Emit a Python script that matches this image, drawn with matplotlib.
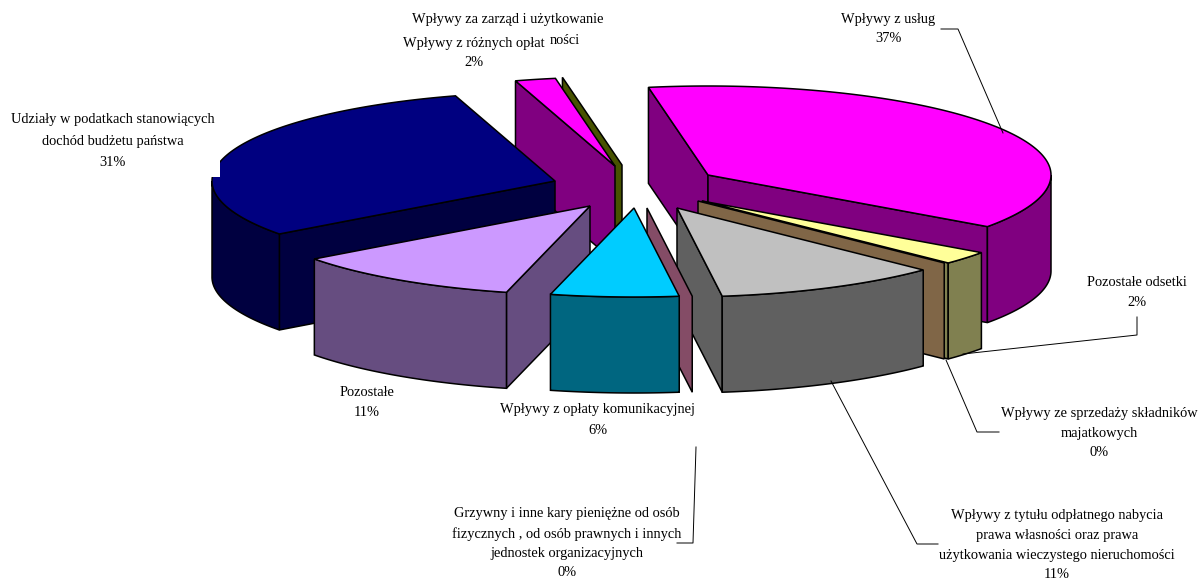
import numpy as np
import matplotlib
matplotlib.use("Agg")
import matplotlib.pyplot as plt
from matplotlib.patches import Polygon, Rectangle

# ---- data (share of revenue, %) in drawing order around the pie
categories = [
    "Wpływy z usług", "Pozostałe odsetki", "Wpływy ze sprzedaży składników majatkowych",
    "Wpływy z tytułu odpłatnego nabycia prawa własności", "Grzywny i inne kary pieniężne",
    "Wpływy z opłaty komunikacyjnej", "Pozostałe",
    "Udziały w podatkach stanowiących dochód budżetu państwa",
    "Wpływy z różnych opłat", "Wpływy za zarząd i użytkowanie",
]
values = [37.49, 2.4, 0.0, 10.6, 0.0, 6.0, 10.9, 30.35, 1.9, 0.0]

# ---- styles
top_colors = ["#FF00FF", "#FFFF99", "#CC9966", "#C0C0C0", "#993366",
              "#00CCFF", "#CC99FF", "#000080", "#FF00FF", "#808000"]
wall_colors = ["#800080", "#808050", "#806647", "#606060", "#844C66",
               "#006680", "#664D80", "#000040", "#800080", "#475200"]
# exploded centre of every slice, in chart pixels
centers = [(708, 175), (702, 201), (698, 201), (677, 208), (647, 208),
           (634, 208), (590, 206), (555, 181), (615, 166), (622, 165)]
draw_order = [0, 1, 2, 3, 9, 8, 7, 6, 4, 5]
START = -100.0
RX, RY, DEPTH = 343, 89, 96
LW = 1.1

fig = plt.figure(figsize=(12.01, 5.80), dpi=100)
ax = fig.add_axes([0, 0, 1, 1])
ax.set_xlim(0, 1201)
ax.set_ylim(580, 0)
ax.axis("off")

total = sum(values)
edges = START + np.concatenate([[0], np.cumsum(values)]) * 360 / total


def ell(c, t):
    t = np.radians(t)
    return c[0] + RX * np.cos(t), c[1] + RY * np.sin(t)


def poly(pts, color):
    ax.add_patch(Polygon(pts, closed=True, facecolor=color, edgecolor="black",
                         linewidth=LW, joinstyle="miter"))


def radial_wall(c, t, color):
    x, y = ell(c, t)
    poly([c, (x, y), (x, y + DEPTH), (c[0], c[1] + DEPTH)], color)


for i in draw_order:
    c, t0, t1 = centers[i], edges[i], edges[i + 1]
    # radial walls facing the viewer
    if np.cos(np.radians(t0)) < 0:
        radial_wall(c, t0, wall_colors[i])
    if np.cos(np.radians(t1)) > 0:
        radial_wall(c, t1, wall_colors[i])
    if values[i] == 0:
        continue
    # curved outer wall: only the part on the near side of the ellipse
    tt = np.linspace(t0, t1, 200)
    near = np.sin(np.radians(tt)) > 0
    if near.any():
        xs, ys = ell(c, tt[near])
        pts = list(zip(xs, ys)) + list(zip(xs[::-1], ys[::-1] + DEPTH))
        poly(pts, wall_colors[i])
    # top face
    xs, ys = ell(c, tt)
    poly([c] + list(zip(xs, ys)), top_colors[i])

# notch left in the navy slice's outline in the original
ax.add_patch(Rectangle((205, 150), 15, 27, facecolor="white", edgecolor="none", zorder=3))

# ---- leader lines
leaders = [
    [(941, 29), (958, 29), (1003, 133)],
    [(1137, 317), (1137, 335), (963, 354)],
    [(999, 432), (977, 432), (946, 360)],
    [(938, 544), (917, 544), (831, 381)],
    [(677, 543), (693, 543), (696, 447)],
]
for seg in leaders:
    ax.plot(*zip(*seg), color="black", lw=0.7, zorder=4)

# ---- labels
labels = [
    (888, 20, "Wpływy z usług"), (888, 39, "37%"),
    (1137, 282, "Pozostałe odsetki"), (1137, 302, "2%"),
    (1099, 414, "Wpływy ze sprzedaży składników"), (1099, 433, "majatkowych"), (1099, 453, "0%"),
    (1057, 515, "Wpływy z tytułu odpłatnego nabycia"), (1057, 535, "prawa własności oraz prawa"),
    (1057, 555, "użytkowania wieczystego nieruchomości"), (1057, 575, "11%"),
    (567, 513, "Grzywny i inne kary pieniężne od osób"),
    (567, 534, "fizycznych , od osób prawnych i innych"),
    (567, 554, "jednostek organizacyjnych"), (567, 573, "0%"),
    (598, 409, "Wpływy z opłaty komunikacyjnej"), (598, 431, "6%"),
    (367, 392, "Pozostałe"), (367, 412, "11%"),
    (113, 119, "Udziały w podatkach stanowiących"), (113, 141, "dochód budżetu państwa"), (113, 162, "31%"),
    (508, 20, "Wpływy za zarząd i użytkowanie"), (565, 41, "ności"),
    (474, 43, "Wpływy z różnych opłat"), (474, 62, "2%"),
]
for x, y, s in labels:
    ax.text(x, y, s, ha="center", va="center", family="Liberation Serif",
            fontsize=10.4, color="black", zorder=5)

fig.savefig("out.png", dpi=100)
